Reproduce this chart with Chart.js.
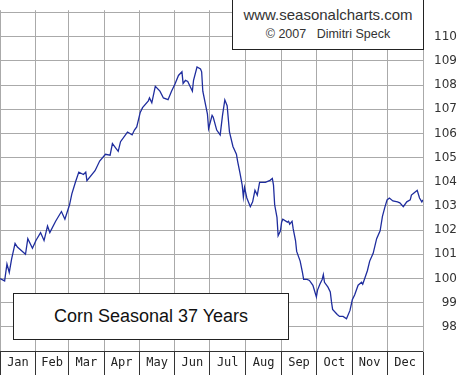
<!DOCTYPE html>
<html>
<head>
<meta charset="utf-8">
<title>Corn Seasonal 37 Years</title>
<script src="https://cdn.jsdelivr.net/npm/chart.js@4"></script>
<style>
  html, body { margin: 0; padding: 0; background: #fff; }
  #wrap { position: relative; width: 474px; height: 375px; overflow: hidden; }
  #chart { position: absolute; left: 0; top: 0; }
  .box { position: absolute; background: #fff; border: 1px solid #222; box-sizing: border-box; }
  #srcBox { left: 232px; top: -1px; width: 192px; height: 51px; font-family: "Liberation Sans", Arial, sans-serif; color: #333; text-align: center; }
  #srcBox .l1 { position: absolute; left: 0; right: 0; top: 6px; font-size: 15px; line-height: 18px; }
  #srcBox .l2 { position: absolute; left: 0; right: 0; top: 26px; font-size: 12.5px; line-height: 16px; white-space: pre; }
  #nameBox { left: 13px; top: 293px; width: 276px; height: 47px; font-family: "Liberation Sans", Arial, sans-serif; font-size: 18px; color: #111; text-align: center; line-height: 45px; }
</style>
</head>
<body>
<div id="wrap">
  <canvas id="chart" width="474" height="375"></canvas>
  <div class="box" id="srcBox"><div class="l1">www.seasonalcharts.com</div><div class="l2">©&nbsp;2007   Dimitri Speck</div></div>
  <div class="box" id="nameBox">Corn Seasonal 37 Years</div>
</div>
<script>
(function () {
  "use strict";

  // ── 데이터 (day of year / seasonal index) ─────────────────
  var MONTHS = ["Jan", "Feb", "Mar", "Apr", "May", "Jun", "Jul", "Aug", "Sep", "Oct", "Nov", "Dec"];
  var MONTH_START = [0, 31, 59, 90, 120, 151, 181, 212, 243, 273, 304, 334, 365];
  var Y_TICKS = [97, 98, 99, 100, 101, 102, 103, 104, 105, 106, 107, 108, 109, 110, 111];

  var DAYS = [
    0, 4, 6, 8, 10, 13, 15, 22, 24, 28, 31, 35, 38, 41, 43, 48, 53, 56, 60, 62,
    65, 68, 72, 74, 75, 82, 86, 91, 95, 97, 102, 104, 110, 114, 116, 118, 121, 123, 128, 129,
    131, 134, 138, 141, 145, 148, 151, 154, 157, 158, 160, 162, 166, 167, 170, 173, 174, 175, 179, 180,
    183, 184, 187, 190, 192, 194, 196, 198, 201, 204, 205, 207, 209, 210, 211, 213, 216, 218, 220, 222,
    224, 229, 233, 235, 236, 237, 239, 240, 242, 243, 244, 248, 249, 250, 252, 253, 255, 256, 259, 261,
    262, 265, 267, 270, 273, 274, 276, 278, 279, 280, 283, 285, 286, 287, 291, 293, 296, 299, 302, 304,
    306, 309, 312, 313, 317, 319, 322, 325, 328, 330, 332, 334, 336, 339, 343, 345, 348, 351, 354, 355,
    358, 360, 362, 364, 365
  ];
  var VALUES = [
    100.0, 99.9, 100.6, 100.25, 100.8, 101.45, 101.3, 101.0, 101.65, 101.25, 101.57, 101.9, 101.57, 102.17, 101.9, 102.37, 102.77, 102.45, 103.05, 103.5,
    103.97, 104.4, 104.3, 104.4, 104.05, 104.46, 104.86, 105.14, 105.1, 105.58, 105.26, 105.66, 106.06, 105.94, 106.14, 106.27, 106.87, 107.07, 107.35, 107.47,
    107.27, 107.95, 107.75, 107.47, 107.4, 107.75, 108.05, 108.4, 108.55, 108.07, 108.2, 108.15, 107.75, 108.2, 108.75, 108.67, 108.55, 107.75, 106.8, 106.2,
    106.75, 106.67, 106.14, 105.94, 106.75, 107.39, 107.15, 106.06, 105.46, 105.14, 104.86, 104.38, 103.86, 103.37, 103.77, 103.33, 102.97, 103.17, 103.65, 103.45,
    103.98, 103.98, 104.06, 104.14, 103.86, 103.05, 102.53, 101.77, 101.97, 102.33, 102.45, 102.33, 102.37, 102.25, 102.37, 102.05, 101.57, 101.12, 100.72, 100.24,
    99.96, 99.96, 99.92, 99.72, 99.24, 99.52, 99.76, 99.96, 100.16, 99.84, 99.64, 99.44, 99.04, 98.72, 98.51, 98.43, 98.43, 98.33, 98.68, 99.12,
    99.32, 99.72, 99.84, 99.76, 100.32, 100.72, 101.04, 101.65, 101.97, 102.57, 102.93, 103.25, 103.33, 103.21, 103.17, 103.13, 102.97, 103.17, 103.25, 103.45,
    103.57, 103.65, 103.33, 103.17, 103.25
  ];

  // ── x축 눈금: 월 경계(격자선) + 월 중앙(라벨) ───────────────
  var xTicks = [];
  for (var i = 0; i < MONTHS.length; i++) {
    xTicks.push({ value: MONTH_START[i] });
    xTicks.push({ value: (MONTH_START[i] + MONTH_START[i + 1]) / 2, label: MONTHS[i] });
  }
  xTicks.push({ value: MONTH_START[12] });

  var points = DAYS.map(function (d, idx) {
    return { x: d, y: VALUES[idx] };
  });

  function isBoundary(ctx) {
    return ctx.index % 2 === 0;
  }

  new Chart(document.getElementById("chart").getContext("2d"), {
    type: "line",
    data: {
      datasets: [
        {
          data: points,
          borderColor: "#1f2d9e",
          borderWidth: 1.3,
          pointRadius: 0,
          tension: 0,
          fill: false,
        },
      ],
    },
    options: {
      responsive: false,
      animation: false,
      layout: { padding: { left: 0, top: 0, right: 17, bottom: 0 } },
      plugins: { legend: { display: false }, tooltip: { enabled: false } },
      scales: {
        x: {
          type: "linear",
          min: 0,
          max: 365,
          afterBuildTicks: function (scale) {
            scale.ticks = xTicks.map(function (t) { return { value: t.value }; });
          },
          afterFit: function (scale) {
            scale.height = 24;
          },
          ticks: {
            autoSkip: false,
            maxRotation: 0,
            padding: -19,
            color: "#222",
            font: { family: "'DejaVu Sans Mono', monospace", size: 12 },
            callback: function (val, idx) {
              return xTicks[idx] && xTicks[idx].label ? xTicks[idx].label : "";
            },
          },
          grid: {
            tickLength: 24,
            lineWidth: 1,
            color: function (ctx) { return isBoundary(ctx) ? "#aaaaaa" : "rgba(0,0,0,0)"; },
            tickColor: function (ctx) { return isBoundary(ctx) ? "#333333" : "rgba(0,0,0,0)"; },
          },
          border: { color: "#333333", width: 1 },
        },
        y: {
          type: "linear",
          position: "right",
          min: 97,
          max: 111.1,
          afterBuildTicks: function (scale) {
            scale.ticks = Y_TICKS.map(function (v) { return { value: v }; });
          },
          afterFit: function (scale) {
            scale.width = 34;
          },
          ticks: {
            crossAlign: "far",
            color: "#333",
            font: { family: "'DejaVu Sans', sans-serif", size: 12 },
            callback: function (val) {
              return val >= 98 && val <= 110 ? String(val) : "";
            },
          },
          grid: { drawTicks: false, color: "#aaaaaa", lineWidth: 1 },
          border: { color: "#aaaaaa", width: 1 },
        },
      },
    },
  });
})();
</script>
</body>
</html>
